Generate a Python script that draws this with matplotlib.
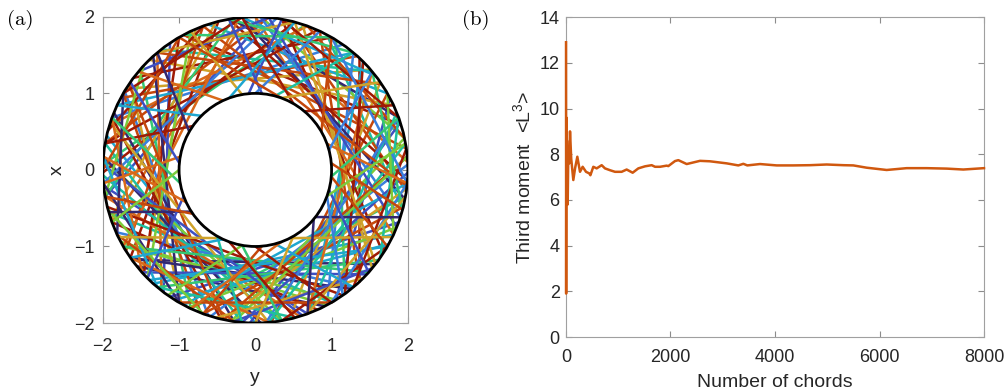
import numpy as np
import matplotlib
matplotlib.use("Agg")
import matplotlib.pyplot as plt
from matplotlib.patches import Circle

plt.rcParams['font.family'] = ['Liberation Sans', 'DejaVu Sans']

# annulus radii
outer_radius = 2.0
inner_radius = 1.0

# chords: start angle on outer circle, end angle, end radius (2 = outer, 1 = inner), colour index
chord_start_deg = [
    3, 17, 28, 41, 47, 55, 62, 71, 78, 86,
    88, 93, 99, 104, 108, 113, 118, 124, 128, 134,
    139, 143, 149, 152, 158, 163, 167, 170, 176, 181,
    186, 190, 196, 199, 204, 208, 212, 216, 219, 223,
    228, 232, 236, 241, 245, 249, 253, 257, 261, 265,
    268, 272, 276, 279, 283, 287, 291, 294, 298, 302,
    306, 309, 313, 317, 320, 324, 327, 331, 335, 338,
    342, 346, 349, 353, 356, 359, 10, 22, 34, 50,
    66, 82, 96, 115, 132, 146, 162, 178, 194, 210,
    226, 242, 258, 274, 290, 306, 322, 338, 354, 5,
    12, 38, 60, 85, 110, 137, 160, 185, 205, 230,
    255, 280, 300, 325, 345, 20, 75, 120, 175, 215,
    262, 310, 335, 50, 150, 240, 290, 355, 95, 195,
    206, 334, 196, 342, 80, 100, 65, 115, 140, 155,
    170, 185, 225, 235, 250, 265, 280, 300, 310, 318,
    330, 355, 10, 25, 40, 50, 120, 130, 160, 190,
    215, 245, 270, 285, 305, 20, 60, 75, 95, 145,
    175, 200, 290, 345, 35,
]
chord_end_deg = [
    95, 118, 302, 148, 313, 160, 345, 178, 352, 190,
    12, 200, 20, 215, 30, 222, 8, 233, 40, 25,
    245, 60, 252, 48, 262, 70, 270, 85, 280, 75,
    290, 98, 300, 105, 310, 298, 110, 322, 297, 120,
    335, 130, 340, 145, 350, 150, 2, 160, 12, 170,
    18, 175, 30, 182, 35, 190, 45, 200, 50, 210,
    58, 215, 65, 222, 72, 230, 80, 238, 90, 244,
    88, 250, 95, 258, 100, 265, 275, 290, 130, 155,
    170, 185, 210, 225, 240, 258, 275, 288, 305, 318,
    330, 355, 5, 20, 40, 45, 75, 85, 110, 262,
    70, 95, 118, 140, 165, 190, 222, 240, 262, 285,
    315, 330, 355, 20, 40, 80, 130, 180, 230, 275,
    320, 8, 30, 100, 205, 300, 350, 60, 150, 250,
    243, 297, 213, 322, 95, 85, 90, 100, 115, 135,
    145, 170, 200, 260, 275, 240, 260, 270, 285, 345,
    355, 20, 340, 50, 15, 75, 70, 150, 190, 215,
    245, 290, 300, 250, 340, 355, 30, 110, 60, 175,
    205, 180, 320, 5, 70,
]
chord_end_r = [2] * 130 + [1] * 45
chord_color = [
    8, 10, 1, 7, 10, 2, 4, 5, 9, 1,
    6, 8, 0, 10, 3, 7, 9, 1, 4, 7,
    5, 10, 2, 9, 0, 8, 3, 9, 6, 10,
    1, 5, 4, 7, 2, 6, 9, 0, 0, 10,
    3, 8, 1, 7, 5, 9, 2, 10, 6, 4,
    1, 0, 9, 4, 7, 8, 3, 10, 2, 6,
    5, 0, 9, 1, 7, 5, 10, 3, 8, 6,
    2, 9, 0, 7, 10, 1, 4, 4, 9, 3,
    10, 2, 8, 6, 0, 9, 7, 1, 10, 5,
    3, 3, 9, 2, 8, 10, 7, 1, 9, 6,
    9, 3, 5, 1, 10, 6, 8, 0, 9, 4,
    7, 10, 2, 4, 5, 10, 7, 9, 3, 8,
    1, 10, 6, 5, 0, 9, 7, 2, 10, 6,
    7, 7, 0, 0, 1, 1, 2, 7, 8, 3,
    10, 8, 1, 6, 9, 4, 5, 10, 3, 1,
    9, 8, 6, 10, 2, 4, 9, 0, 5, 9,
    3, 8, 7, 10, 2, 5, 9, 3, 10, 1,
    8, 6, 0, 9, 7,
]
chord_palette = ['#342870', '#3d4fc1', '#3a7fdc', '#1fa6cf', '#1ebfa0', '#35c774',
                 '#7ccb3a', '#cfa22a', '#d9691a', '#c4470b', '#9e1a05']

# running third moment vs number of chords
n_chords = [1, 3, 5, 8, 12, 18, 25, 32, 45, 60, 77, 100, 140, 175, 217, 268, 319, 383,
            446, 467, 523, 587, 683, 746, 842, 938, 1065, 1161, 1276, 1384, 1512, 1640,
            1704, 1800, 1927, 1958, 2086, 2150, 2310, 2565, 2756, 3075, 3298, 3394, 3470,
            3713, 4032, 4350, 4669, 4989, 5308, 5499, 5754, 6137, 6520, 6903, 7286, 7604, 8000]
third_moment = [12.9, 1.9, 6.4, 9.6, 7.2, 8.6, 7.0, 5.8, 8.2, 7.6, 9.0, 7.8, 6.87, 7.4,
                7.89, 7.23, 7.45, 7.23, 7.16, 7.08, 7.45, 7.38, 7.52, 7.38, 7.3, 7.23, 7.23,
                7.33, 7.19, 7.38, 7.47, 7.52, 7.45, 7.45, 7.5, 7.48, 7.7, 7.74, 7.57, 7.71,
                7.69, 7.6, 7.51, 7.58, 7.51, 7.57, 7.51, 7.51, 7.52, 7.55, 7.52, 7.51, 7.41,
                7.31, 7.39, 7.39, 7.37, 7.33, 7.39]

ann_ticks = [-2, -1, 0, 1, 2]
x_ticks = [0, 2000, 4000, 6000, 8000]
y_ticks = [0, 2, 4, 6, 8, 10, 12, 14]

fig = plt.figure(figsize=(10.08, 3.92), dpi=100)
ax1 = fig.add_axes([0.102, 0.176, 0.3026, 0.781])
ax2 = fig.add_axes([0.5615, 0.1403, 0.4147, 0.816])

for a1, a2, r2, c in zip(chord_start_deg, chord_end_deg, chord_end_r, chord_color):
    t1, t2 = np.deg2rad(a1), np.deg2rad(a2)
    ax1.plot([outer_radius * np.cos(t1), r2 * np.cos(t2)],
             [outer_radius * np.sin(t1), r2 * np.sin(t2)],
             color=chord_palette[c], lw=1.8, solid_capstyle='butt', zorder=2)

ax1.add_patch(Circle((0, 0), inner_radius, facecolor='white', edgecolor='black', lw=2, zorder=3))
ax1.add_patch(Circle((0, 0), outer_radius, fill=False, edgecolor='black', lw=2, zorder=3))

ax2.plot(n_chords, third_moment, color='#d0580f', lw=1.8, zorder=3, clip_on=False)

for ax in (ax1, ax2):
    ax.tick_params(direction='in', top=True, right=True, length=4, color='#8c8c8c',
                   labelsize=13, labelcolor='#262626')
    for s in ax.spines.values():
        s.set_color('#a0a0a0')
        s.set_linewidth(0.8)

ax1.tick_params(axis='x', pad=11)
ax1.tick_params(axis='y', pad=6)
ax2.tick_params(axis='x', pad=8.5)
ax2.tick_params(axis='y', pad=4.5)

ax1.set_xlim(-2, 2)
ax1.set_ylim(-2, 2)
ax1.set_xticks(ann_ticks)
ax1.set_yticks(ann_ticks)
ax1.set_xlabel('y', fontsize=14, color='#262626', labelpad=10)
ax1.set_ylabel('x', fontsize=14, color='#262626', labelpad=6)

ax2.set_xlim(0, 8000)
ax2.set_ylim(0, 14)
ax2.set_xticks(x_ticks)
ax2.set_yticks(y_ticks)
ax2.set_xlabel('Number of chords', fontsize=14, color='#262626', labelpad=6)
ax2.set_ylabel(r'Third moment  <L$^{\mathregular{3}}$>', fontsize=14, color='#262626', labelpad=3)

fig.text(0.007, 0.95, '(a)', fontfamily='cmr10', fontsize=15, va='center', ha='left')
fig.text(0.458, 0.95, '(b)', fontfamily='cmr10', fontsize=15, va='center', ha='left')

fig.savefig('out.png', dpi=100)
